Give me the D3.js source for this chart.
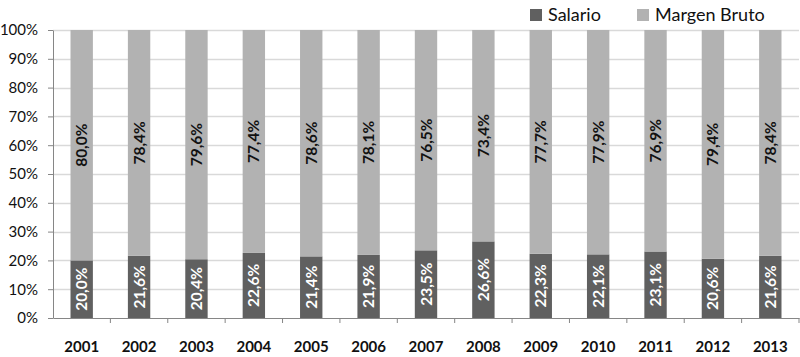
<!DOCTYPE html>
<html>
<head>
<meta charset="utf-8">
<script src="https://cdn.jsdelivr.net/npm/d3@7"></script>
<style>
  body { margin: 0; background: #fff; }
  svg { display: block; font-family: Lato, "Open Sans", sans-serif; }
</style>
</head>
<body>
<svg id="chart"></svg>
<script>
const years = ["2001","2002","2003","2004","2005","2006","2007","2008","2009","2010","2011","2012","2013"];
const salario = [20.0, 21.6, 20.4, 22.6, 21.4, 21.9, 23.5, 26.6, 22.3, 22.1, 23.1, 20.6, 21.6];
const margen = [80.0, 78.4, 79.6, 77.4, 78.6, 78.1, 76.5, 73.4, 77.7, 77.9, 76.9, 79.4, 78.4];
const seriesNames = ["Salario", "Margen Bruto"];
const yTicks = [0, 10, 20, 30, 40, 50, 60, 70, 80, 90, 100];

const W = 800, H = 357;
const margin = {top: 30, right: 1, bottom: 39, left: 53};
const width = W - margin.left - margin.right;
const height = H - margin.top - margin.bottom;

const colors = {"Salario": "#606060", "Margen Bruto": "#b2b2b2"};
const fmt = v => v.toFixed(1).replace(".", ",") + "%";

const rows = years.map((y, i) => ({year: y, "Salario": salario[i], "Margen Bruto": margen[i]}));
const stack = d3.stack().keys(seriesNames)(rows);

const x = d3.scaleBand().domain(years).range([0, width]).paddingInner(0.61).paddingOuter(0.305);
const xTick = d3.scaleBand().domain(years).range([0, width]);
const y = d3.scaleLinear().domain([0, 100]).range([height, 0]);

const svg = d3.select("#chart").attr("width", W).attr("height", H);
const g = svg.append("g").attr("transform", `translate(${margin.left},${margin.top})`);

// Gridlines
g.append("g").selectAll("line")
    .data(yTicks.filter(d => d > 0))
    .enter().append("line")
    .attr("x1", 0).attr("x2", width)
    .attr("y1", d => Math.round(y(d)) + 0.5).attr("y2", d => Math.round(y(d)) + 0.5)
    .attr("stroke", "#d9d9d9").attr("stroke-width", 1.5);

// Bars
const layers = g.selectAll(".layer")
    .data(stack)
    .enter().append("g")
    .attr("class", "layer")
    .attr("fill", d => colors[d.key]);

layers.selectAll("rect")
    .data(d => d)
    .enter().append("rect")
    .attr("x", d => x(d.data.year))
    .attr("y", d => y(d[1]))
    .attr("width", x.bandwidth())
    .attr("height", d => y(d[0]) - y(d[1]));

// Value labels
stack.forEach(layer => {
    g.append("g").selectAll("text")
        .data(layer)
        .enter().append("text")
        .attr("transform", d => `translate(${x(d.data.year) + x.bandwidth() / 2 + 5.5},${(y(d[0]) + y(d[1])) / 2}) rotate(-90)`)
        .attr("text-anchor", "middle")
        .attr("font-size", 15.5)
        .attr("font-weight", "bold")
        .attr("fill", layer.key === "Salario" ? "#fff" : "#111")
        .text(d => fmt(d[1] - d[0]));
});

// Y axis
const yAxis = g.append("g")
    .call(d3.axisLeft(y).tickValues(yTicks).tickFormat(d => d + "%").tickSize(5).tickSizeOuter(0));
yAxis.select(".domain").attr("stroke", "#868686");
yAxis.selectAll(".tick line").attr("stroke", "#868686");
yAxis.selectAll("text").attr("font-size", 15).attr("fill", "#111").attr("x", -15)
    .style("font-family", "Lato, sans-serif");

// X axis
const xAxis = g.append("g")
    .attr("transform", `translate(0,${height})`)
    .call(d3.axisBottom(xTick).tickSize(0).tickSizeOuter(0));
xAxis.select(".domain").attr("stroke", "#868686");
xAxis.selectAll("text").attr("font-size", 15).attr("font-weight", "bold").attr("fill", "#111")
    .attr("y", 34).attr("dy", 0).style("font-family", "Lato, sans-serif");
xAxis.append("g").selectAll("line")
    .data(years.slice(1).concat(["end"]))
    .enter().append("line")
    .attr("x1", (d, i) => i < years.length - 1 ? xTick(d) : width)
    .attr("x2", (d, i) => i < years.length - 1 ? xTick(d) : width)
    .attr("y1", 0).attr("y2", 5)
    .attr("stroke", "#868686");

// Legend
const legend = svg.append("g").attr("transform", "translate(530,3)");
const legendX = [0, 107];
seriesNames.forEach((name, i) => {
    const item = legend.append("g").attr("transform", `translate(${legendX[i]},0)`);
    item.append("rect").attr("x", 0).attr("y", 6).attr("width", 12).attr("height", 12)
        .attr("fill", colors[name]);
    item.append("text").attr("x", 18).attr("y", 18).attr("font-size", 18).attr("fill", "#111")
        .text(name);
});
</script>
</body>
</html>
